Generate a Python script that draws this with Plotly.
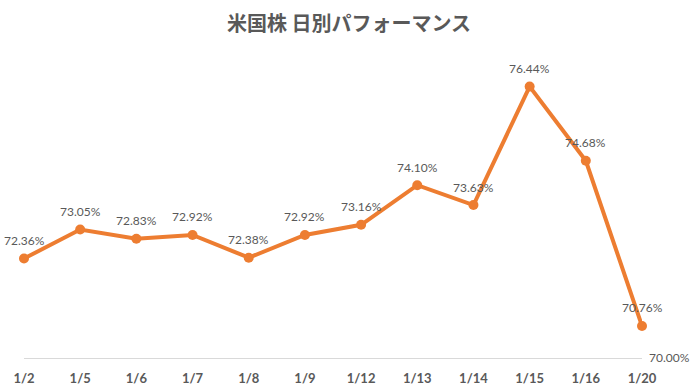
import plotly.graph_objects as go

dates = ["1/2", "1/5", "1/6", "1/7", "1/8", "1/9", "1/12", "1/13", "1/14", "1/15", "1/16", "1/20"]
values = [72.36, 73.05, 72.83, 72.92, 72.38, 72.92, 73.16, 74.10, 73.63, 76.44, 74.68, 70.76]
labels = [f"{v:.2f}%" for v in values]
title = "米国株 日別パフォーマンス"

xs = list(range(len(dates)))
fig = go.Figure()
fig.add_trace(go.Scatter(
    x=xs, y=values,
    mode="lines+markers",
    line=dict(color="#ED7D31", width=4),
    marker=dict(color="#ED7D31", size=10),
    cliponaxis=False, showlegend=False, hoverinfo="skip",
))
for xi, v, t in zip(xs, values, labels):
    fig.add_annotation(x=xi, y=v, text=t, showarrow=False, yshift=18,
                       font=dict(family="Lato, Open Sans, sans-serif", size=12, color="#595959"))

fig.update_layout(
    width=698, height=392,
    margin=dict(l=24, r=56, t=63, b=34),
    paper_bgcolor="white", plot_bgcolor="white",
    title=dict(text=title, x=0.5, xanchor="center", y=0.94, yanchor="middle",
               font=dict(family="Noto Sans CJK JP", size=20, color="#595959", weight="bold")),
    xaxis=dict(
        range=[0, len(dates) - 1], tickmode="array",
        tickvals=xs, ticktext=dates, automargin=False,
        showgrid=False, zeroline=False,
        showline=True, linecolor="#D9D9D9", linewidth=1,
        ticks="", ticklabelstandoff=8,
        tickfont=dict(family="Lato, Open Sans, sans-serif", size=13, color="#595959", weight="bold"),
    ),
    yaxis=dict(
        range=[70, 77], side="right", tickmode="array",
        tickvals=[70], ticktext=["70.00%"], automargin=False,
        showgrid=False, zeroline=False, showline=False, ticks="",
        ticklabelstandoff=6,
        tickfont=dict(family="Lato, Open Sans, sans-serif", size=12, color="#595959"),
    ),
)

fig.write_html("out.html")
